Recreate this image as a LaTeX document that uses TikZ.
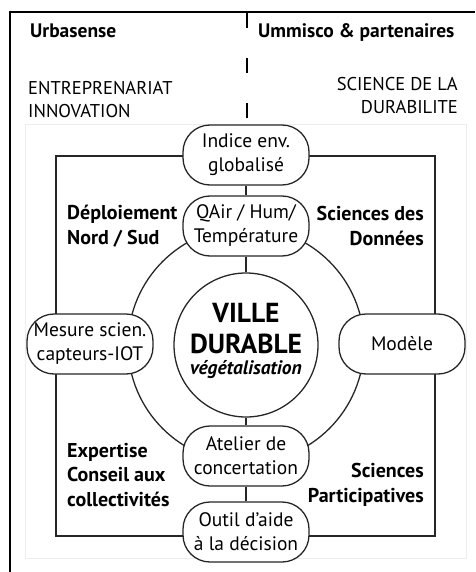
\documentclass[tikz,border=0pt]{standalone}
\usepackage{fontspec}
\setmainfont{PT Sans}
\begin{document}
\begin{tikzpicture}[x=1pt,y=-1pt,
  capsule/.style={draw=black!85, line width=1.3pt, fill=white, rounded corners=27pt,
    minimum width=126pt, minimum height=60pt, inner sep=0pt, align=center,
    font=\fontsize{19.5}{24}\selectfont},
  link/.style={draw=black!85, line width=1.3pt},
  lab/.style={font=\bfseries\fontsize{20}{24.5}\selectfont, inner sep=0pt},
  headb/.style={font=\bfseries\fontsize{19.5}{22}\selectfont, inner sep=0pt},
  headr/.style={font=\fontsize{18.5}{23}\selectfont, inner sep=0pt}]
\useasboundingbox (0,0) rectangle (475,572);
\draw[black!7, line width=0.8pt] (25,124) rectangle (466,558);
\draw[line width=2pt] (10,572) -- (10,12) -- (475,12);
\coordinate (d1) at (247,13);
\coordinate (d2) at (247,120);
\draw[line width=1.2pt, dash pattern=on 15pt off 30pt] (d1) -- (d2);
% headers
\node[headb, anchor=base west] (urb) at (30,38) {Urbasense};
\node[headb, anchor=base west] (umm) at (258,38) {Ummisco \& partenaires};
\node[headr, anchor=west, align=left] (ent) at (28,100) {ENTREPRENARIAT\\INNOVATION};
\node[headr, anchor=east, align=right] (sci) at (458,95) {SCIENCE DE LA\\DURABILITE};
% ring and rectangle
\coordinate (c) at (246,345);
\draw[link] (c) circle[radius=118];
\draw[link] (56,156) rectangle (435,536);
% nodes
\node[capsule] (ind) at (246,155) {Indice env.\\globalisé};
\node[capsule] (qair) at (246,226) {QAir / Hum/\\Température};
\node[capsule] (mes) at (90,344) {Mesure scien.\\capteurs-IOT};
\node[capsule] (mod) at (402,344) {Modèle};
\node[capsule] (ate) at (246,456) {Atelier de\\concertation};
\node[capsule] (out) at (246,532) {Outil d’aide\\à la décision};
\node[circle, draw=black!85, line width=1.3pt, fill=white, minimum size=144pt, inner sep=0pt] (ville) at (246,345) {};
\node[font=\bfseries\fontsize{27.5}{30}\selectfont, inner sep=0pt] (t1) at (246,313) {VILLE};
\node[font=\bfseries\fontsize{27.5}{30}\selectfont, inner sep=0pt] (t2) at (246,344) {DURABLE};
\node[font=\bfseries\itshape\fontsize{19.5}{22}\selectfont, inner sep=0pt] (t3) at (246,370) {végétalisation};
% connectors
\draw[link] (ind) -- (qair);
\draw[link] (qair) -- (ville);
\draw[link] (ville) -- (ate);
\draw[link] (ate) -- (out);
% labels
\node[lab, anchor=west, align=left] (dep) at (67,226) {Déploiement\\Nord / Sud};
\node[lab, anchor=east, align=right] (sdd) at (424,226) {Sciences des\\Données};
\node[lab, anchor=west, align=left] (exp) at (67,475) {Expertise\\Conseil aux\\collectivités};
\node[lab, anchor=east, align=right] (spa) at (424,485) {Sciences\\Participatives};
\end{tikzpicture}
\end{document}
